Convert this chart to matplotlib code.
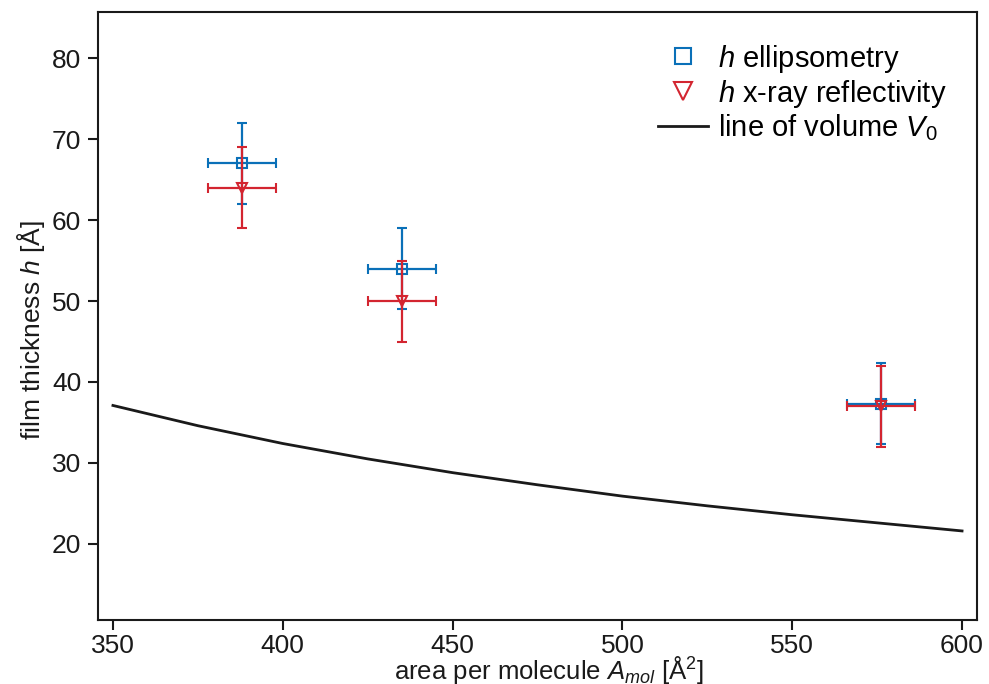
import matplotlib
matplotlib.use("Agg")
import matplotlib.pyplot as plt

base = 'Liberation Sans'
plt.rcParams['font.family'] = [base, 'DejaVu Sans']
plt.rcParams['mathtext.fontset'] = 'custom'
plt.rcParams['mathtext.rm'] = base
plt.rcParams['mathtext.it'] = base + ':italic'
plt.rcParams['mathtext.bf'] = base + ':bold'

# Data
ell_area = [388, 435, 576]
ell_h = [67, 54, 37.3]
ell_area_err = [10, 10, 10]
ell_h_err = [5, 5, 5]

xrr_area = [388, 435, 576]
xrr_h = [64, 50, 37]
xrr_area_err = [10, 10, 10]
xrr_h_err = [5, 5, 5]

v0_area = [350, 375, 400, 425, 450, 475, 500, 525, 550, 575, 600]
v0_h = [37.1, 34.6, 32.4, 30.5, 28.8, 27.3, 25.9, 24.7, 23.6, 22.6, 21.6]

blue = '#0a70b8'
red = '#d32530'
ink = '#1a1a1a'
fs = 19

fig = plt.figure(figsize=(9.89, 6.84), dpi=100)
ax = fig.add_axes([98/989, 1-620/684, (977-98)/989, (620-12)/684])

ax.plot(v0_area, v0_h, color=ink, lw=2.0, label=r'line of volume $V_{\mathit{0}}$', zorder=2)

ax.errorbar(ell_area, ell_h, xerr=ell_area_err, yerr=ell_h_err, fmt='s', ms=7,
            mfc='none', mec=blue, mew=1.5, ecolor=blue, elinewidth=1.6, capsize=3.5,
            capthick=1.6, label=r'$h$ ellipsometry', zorder=3)
ax.errorbar(xrr_area, xrr_h, xerr=xrr_area_err, yerr=xrr_h_err, fmt='v', ms=7,
            mfc='none', mec=red, mew=1.5, ecolor=red, elinewidth=1.6, capsize=3.5,
            capthick=1.6, label=r'$h$ x-ray reflectivity', zorder=4)

ax.set_xlim(345.6, 604.4)
ax.set_ylim(10.6, 85.7)
ax.set_xticks([350, 400, 450, 500, 550, 600])
ax.set_yticks([20, 30, 40, 50, 60, 70, 80])
ax.tick_params(direction='out', length=7, width=1.5, labelsize=fs, colors=ink, pad=5)
ax.tick_params(axis='x', pad=3)
for s in ax.spines.values():
    s.set_linewidth(1.5)
    s.set_color(ink)

fig.text(549/989, 1-679/684, r'area per molecule $A_{mol}$ [Å$^2$]',
         fontsize=18.5, color=ink, ha='center', va='baseline')
fig.text(31/989, 1-330/684, r'film thickness $h$ [Å]', fontsize=fs, color=ink,
         ha='center', va='center', rotation=90)

h, l = ax.get_legend_handles_labels()
order = [1, 2, 0]
h = [h[i] for i in order]
l = [l[i] for i in order]
h[0] = plt.Line2D([], [], ls='none', marker='s', ms=12, mfc='none', mec=blue, mew=1.5)
h[1] = plt.Line2D([], [], ls='none', marker='v', ms=13, mfc='none', mec=red, mew=1.5)
ax.legend(h, l, loc='upper right', frameon=False, fontsize=21, handlelength=1.7,
          handletextpad=0.35, labelspacing=0.1, borderaxespad=0.65)

fig.savefig('out.png', dpi=100)
